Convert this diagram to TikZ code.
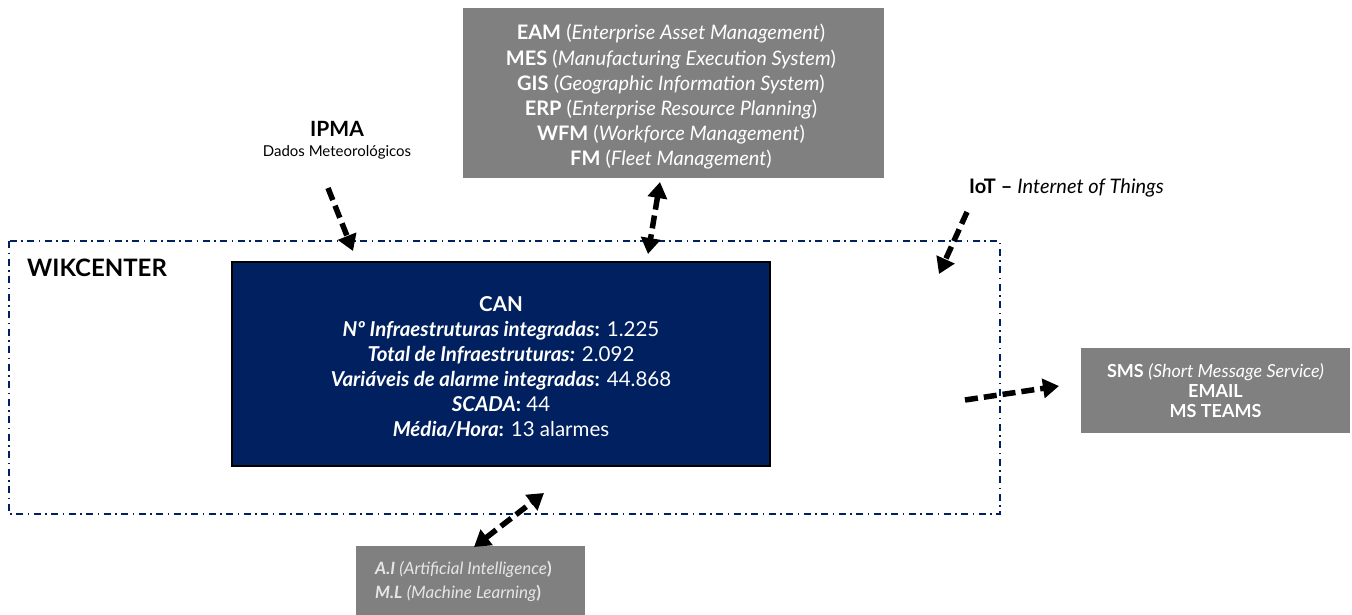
\documentclass[tikz,border=0pt]{standalone}
\usepackage{fontspec}
\setmainfont{Lato}
\usetikzlibrary{arrows.meta}
\definecolor{navy}{HTML}{002060}
\definecolor{boxgray}{HTML}{808080}
\definecolor{ltxt}{HTML}{E6E6E6}
\tikzset{
  graybox/.style={fill=boxgray, draw=none, text=white, align=center, inner sep=0pt},
  flow/.style={line width=5.5pt, dash pattern=on 13pt off 6pt, -{Triangle[length=16pt,width=19pt]}},
  flowboth/.style={line width=5.5pt, dash pattern=on 13pt off 6pt, {Triangle[length=16pt,width=19pt]}-{Triangle[length=16pt,width=19pt]}},
  lbl/.style={align=center, inner sep=0pt}
}
\begin{document}
\begin{tikzpicture}[x=1pt,y=-1pt]
\useasboundingbox (0,0) rectangle (1352,614);
% WIKCENTER frame
\draw[navy, line width=1.4pt, dash pattern=on 7pt off 4.5pt on 1.5pt off 4.5pt] (9,241) rectangle (1000,514);
\node[lbl, anchor=west, font=\fontsize{24}{28}\selectfont\bfseries] (wik) at (27,268) {WIKCENTER};
% top gray box
\fill[boxgray] (463,8) rectangle (884,178);
\node[lbl, text=white, font=\fontsize{20}{25.2}\selectfont] (eam) at (671,97) {%
\textbf{EAM} (\textit{Enterprise Asset Management})\\
\textbf{MES} (\textit{Manufacturing Execution System})\\
\textbf{GIS} (\textit{Geographic Information System})\\
\textbf{ERP} (\textit{Enterprise Resource Planning})\\
\textbf{WFM} (\textit{Workforce Management})\\
\textbf{FM} (\textit{Fleet Management})};
\coordinate (eamS) at (660,182);
% IPMA
\node[lbl, font=\fontsize{21}{24}\selectfont\bfseries] (ipma) at (337,129) {IPMA};
\node[lbl, font=\fontsize{15}{18}\selectfont] (dados) at (337,152) {Dados Meteorológicos};
\coordinate (ipmaS) at (328,188);
% IoT
\node[lbl, anchor=west, font=\fontsize{20}{24}\selectfont] (iot) at (969,188) {\textbf{IoT –} \textit{Internet of Things}};
\coordinate (iotS) at (967,212);
% CAN box
\node[draw=black, line width=1.2pt, fill=navy, minimum width=538pt, minimum height=204pt, inner sep=0pt] (can) at (501,364) {};
\node[lbl, text=white, font=\fontsize{20.5}{25}\selectfont] (cantext) at (501,367) {%
\textbf{CAN}\\
\textbf{\textit{Nº Infraestruturas integradas}:} 1.225\\
\textbf{\textit{Total de Infraestruturas:}} 2.092\\
\textbf{\textit{Variáveis de alarme integradas}:} 44.868\\
\textbf{\textit{SCADA}:} 44\\
\textbf{\textit{Média/Hora}:} 13 alarmes};
\coordinate (ipmaE) at (353,251);
\coordinate (eamE) at (648,254);
\coordinate (iotE) at (939,274);
% SMS box
\node[graybox, minimum width=269pt, minimum height=85pt, font=\fontsize{18}{20}\selectfont] (sms) at (1215.5,390.5) {%
\textbf{SMS} \textit{(Short Message Service)}\\
\textbf{EMAIL}\\
\textbf{MS TEAMS}};
\coordinate (smsS) at (965,400);
\coordinate (smsE) at (1059,386);
% AI box
\node[fill=boxgray, minimum width=229pt, minimum height=70pt, inner sep=0pt] (ai) at (470.5,581) {};
\node[lbl, anchor=west, text=ltxt, font=\fontsize{17}{24}\selectfont, align=left] (aitext) at (375,581) {%
\textbf{\textit{A.I}} \textit{(Artificial Intelligence}\textbf{)}\\
\textbf{\textit{M.L}} \textit{(Machine Learning}\textbf{)}};
\coordinate (aiS) at (474,547);
\coordinate (aiE) at (544,493);
% arrows
\draw[flow] (ipmaS) -- (ipmaE);
\draw[flowboth] (eamS) -- (eamE);
\draw[flow] (iotS) -- (iotE);
\draw[flow] (smsS) -- (smsE);
\draw[flowboth] (aiS) -- (aiE);
\end{tikzpicture}
\end{document}
